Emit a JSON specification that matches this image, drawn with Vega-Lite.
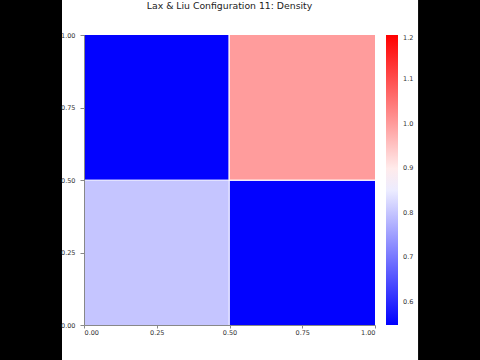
{
  "$schema": "https://vega.github.io/schema/vega-lite/v6.json",
  "width": 291,
  "height": 290,
  "autosize": {"type": "none"},
  "padding": {"left": 84, "top": 35, "right": 105, "bottom": 35},
  "background": "black",
  "title": {"text": "Lax & Liu Configuration 11: Density", "font": "DejaVu Sans", "fontSize": 9.3, "fontWeight": "normal", "color": "#222", "offset": -11, "anchor": "middle", "frame": "group", "zindex": 2},
  "config": {
    "view": {"stroke": null},
    "axis": {"labelFont": "DejaVu Sans", "labelFontSize": 6.5, "labelColor": "#333", "domainColor": "#888", "tickColor": "#888", "grid": false, "title": null}
  },
  "datasets": {
    "frame": [{}],
    "cells": [
      {"x": 0.0, "x2": 0.497, "y": 0.501, "y2": 1.0, "density": 0.55},
      {"x": 0.501, "x2": 1.0, "y": 0.501, "y2": 1.0, "density": 1.0},
      {"x": 0.0, "x2": 0.497, "y": 0.0, "y2": 0.497, "density": 0.8},
      {"x": 0.501, "x2": 1.0, "y": 0.0, "y2": 0.497, "density": 0.55},
      {"x": 0.497, "x2": 0.501, "y": 0.501, "y2": 1.0, "density": 0.9},
      {"x": 0.497, "x2": 0.501, "y": 0.0, "y2": 0.497, "density": 0.82},
      {"x": 0.0, "x2": 0.497, "y": 0.497, "y2": 0.501, "density": 0.83},
      {"x": 0.501, "x2": 1.0, "y": 0.497, "y2": 0.501, "density": 0.88},
      {"x": 0.497, "x2": 0.501, "y": 0.497, "y2": 0.501, "density": 0.87}
    ]
  },
  "layer": [
    {
      "data": {"name": "frame"},
      "mark": {"type": "rect", "fill": "white", "clip": false},
      "encoding": {
        "x": {"datum": -0.0756, "type": "quantitative", "scale": {"domain": [0, 1], "nice": false, "zero": false}},
        "x2": {"datum": 1.148},
        "y": {"datum": -0.1207, "type": "quantitative", "scale": {"domain": [0, 1], "nice": false, "zero": false}},
        "y2": {"datum": 1.1207}
      }
    },
    {
      "data": {"name": "cells"},
      "mark": {"type": "rect", "strokeWidth": 0},
      "encoding": {
        "x": {"field": "x", "type": "quantitative", "scale": {"domain": [0, 1], "nice": false, "zero": false}, "axis": {"values": [0, 0.25, 0.5, 0.75, 1], "format": ".2f", "zindex": 1, "tickSize": 3, "labelPadding": 1}},
        "x2": {"field": "x2"},
        "y": {"field": "y", "type": "quantitative", "scale": {"domain": [0, 1], "nice": false, "zero": false}, "axis": {"values": [0, 0.25, 0.5, 0.75, 1], "format": ".2f", "zindex": 1, "tickSize": 4, "labelPadding": 5}},
        "y2": {"field": "y2"},
        "color": {
          "field": "density", "type": "quantitative",
          "scale": {"type": "linear", "domain": [0.548, 0.874, 1.2], "range": ["#0000ff", "#ffffff", "#ff0000"], "interpolate": "rgb", "clamp": true},
          "legend": {"title": null, "orient": "right", "offset": 11, "gradientLength": 290, "gradientThickness": 12, "direction": "vertical", "values": [0.6, 0.7, 0.8, 0.9, 1.0, 1.1, 1.2], "format": ".1f", "labelFont": "DejaVu Sans", "labelFontSize": 6.5, "labelColor": "#333", "labelOffset": 5, "padding": 0, "zindex": 2, "gradientStrokeWidth": 0}
        }
      }
    }
  ]
}
